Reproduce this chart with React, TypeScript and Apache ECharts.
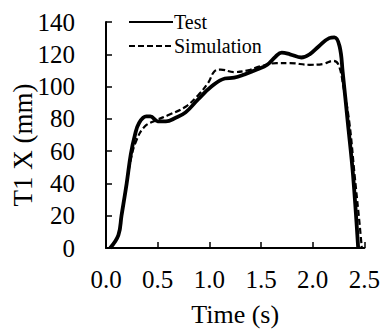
import React, { useEffect, useRef } from "react";
import * as echarts from "echarts";

const testTime = [0.04, 0.12, 0.15, 0.2, 0.24, 0.28, 0.32, 0.39, 0.43, 0.5, 0.58, 0.67, 0.77, 0.89, 1.02, 1.15, 1.24, 1.34, 1.46, 1.56, 1.64, 1.7, 1.78, 1.89, 1.97, 2.06, 2.16, 2.21, 2.26, 2.29, 2.34, 2.39, 2.44];
const testValue = [0, 8, 20, 40, 58, 70, 77.5, 81.5, 81.5, 78.5, 78.5, 80.5, 84, 92, 100, 105, 105.5, 107.5, 110.5, 113.5, 118.5, 121, 120, 118, 120, 125, 130, 130.5, 125, 109, 77.5, 45.5, 0];

const simTime = [0.04, 0.12, 0.15, 0.2, 0.24, 0.29, 0.37, 0.48, 0.61, 0.77, 0.89, 0.99, 1.05, 1.11, 1.24, 1.37, 1.49, 1.65, 1.78, 1.97, 2.1, 2.2, 2.25, 2.3, 2.355, 2.405, 2.455, 2.475];
const simValue = [0, 8, 20, 40, 55, 66, 75, 79, 82.5, 87.5, 94.5, 102.5, 109.5, 110.5, 109, 110, 112.5, 114.5, 114.5, 113.5, 114, 116, 113.5, 99, 77.5, 45.5, 14, 0];

const seriesNames = ["Test", "Simulation"];
const xTicks = [0, 0.5, 1.0, 1.5, 2.0, 2.5];
const yTicks = [0, 20, 40, 60, 80, 100, 120, 140];
const xTitle = "Time (s)";
const yTitle = "T1 X (mm)";

const FONT = "Liberation Serif";

export default function App() {
  const ref = useRef<HTMLDivElement>(null);
  useEffect(() => {
    if (!ref.current) return;
    const chart = echarts.init(ref.current, undefined, { renderer: "svg" });
    const pair = (t: number[], v: number[]) => t.map((x, i) => [x, v[i]]);
    chart.setOption({
      animation: false,
      backgroundColor: "#fff",
      textStyle: { fontFamily: FONT },
      grid: { left: 106, right: 14, top: 22, bottom: 79 },
      legend: {
        orient: "vertical",
        left: 123,
        top: 7,
        itemWidth: 44,
        itemHeight: 14,
        itemGap: 4,
        itemStyle: { opacity: 0, color: "transparent", borderWidth: 0 },
        textStyle: { fontFamily: FONT, fontSize: 20, color: "#000", padding: [3, 0, 0, -4] },
        data: seriesNames,
      },
      graphic: [
        {
          type: "text",
          x: 23,
          y: 145,
          rotation: Math.PI / 2,
          style: {
            text: yTitle,
            fontFamily: FONT,
            fontSize: 27,
            fill: "#000",
            textAlign: "center",
            textVerticalAlign: "middle",
          },
        },
      ],
      xAxis: {
        type: "value",
        min: xTicks[0],
        max: xTicks[xTicks.length - 1],
        interval: 0.5,
        name: xTitle,
        nameLocation: "middle",
        nameGap: 53,
        nameTextStyle: { fontFamily: FONT, fontSize: 26, color: "#000" },
        axisLine: { lineStyle: { color: "#000", width: 2 } },
        axisTick: { inside: true, length: 6, lineStyle: { color: "#000", width: 1.5 } },
        axisLabel: {
          fontFamily: FONT,
          fontSize: 25,
          color: "#000",
          margin: 19,
          formatter: (v: number) => v.toFixed(1),
        },
        splitLine: { show: false },
      },
      yAxis: {
        type: "value",
        min: yTicks[0],
        max: yTicks[yTicks.length - 1],
        interval: 20,
        axisLine: { show: true, lineStyle: { color: "#000", width: 2 } },
        axisTick: { show: true, inside: true, length: 6, lineStyle: { color: "#000", width: 1.5 } },
        axisLabel: { fontFamily: FONT, fontSize: 25, color: "#000", margin: 31 },
        splitLine: { show: false },
      },
      series: [
        {
          name: seriesNames[0],
          type: "line",
          data: pair(testTime, testValue),
          smooth: 0.4,
          symbol: "none",
          lineStyle: { color: "#000", width: 3.8 },
          itemStyle: { color: "#000" },
          z: 3,
        },
        {
          name: seriesNames[1],
          type: "line",
          data: pair(simTime, simValue),
          smooth: 0.4,
          symbol: "none",
          lineStyle: { color: "#000", width: 2.2, type: [6, 3] },
          itemStyle: { color: "#000" },
          z: 2,
        },
      ],
    });
    return () => chart.dispose();
  }, []);
  return (
    <div
      ref={ref}
      style={{ position: "absolute", left: 0, top: 0, width: 383, height: 332 }}
    />
  );
}
